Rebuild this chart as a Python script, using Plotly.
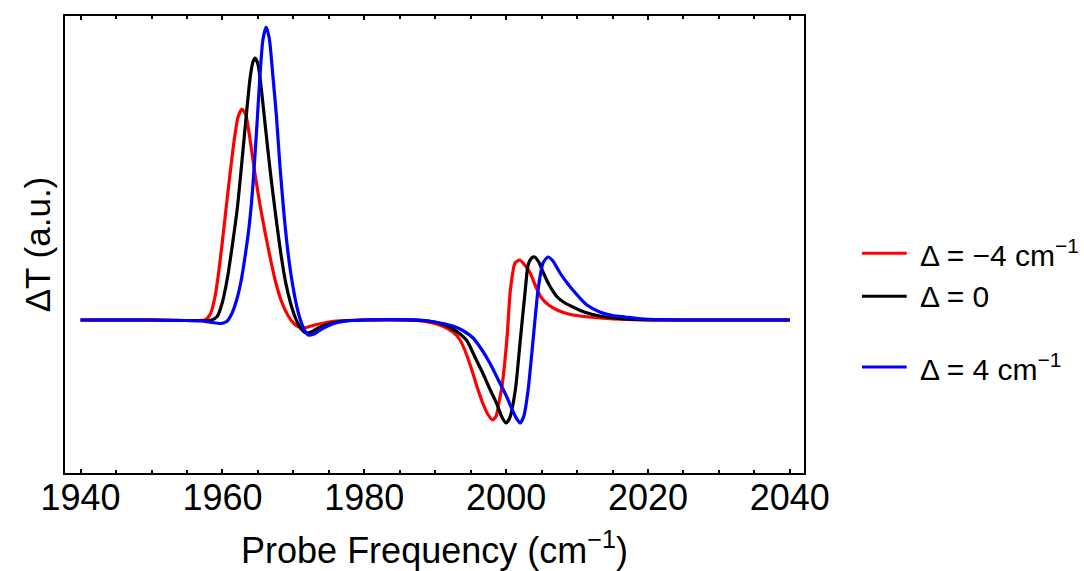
import plotly.graph_objects as go

# Probe frequency (cm^-1) and ΔT (a.u.)
red_f = [1940, 1950, 1955, 1957.5, 1958.3, 1959.0, 1959.6, 1960.3, 1961.0, 1961.7, 1962.2, 1962.75,
         1963.3, 1963.8, 1964.5, 1965.3, 1966.0, 1966.8, 1967.5, 1968.3, 1969.2, 1970.0, 1970.8, 1971.5,
         1972.5, 1974.0, 1976.0, 1980.0, 1986.0, 1989.0, 1991.0, 1992.5, 1993.5, 1994.5, 1995.3, 1996.0,
         1996.7, 1997.4, 1998.1, 1998.6, 1999.0, 1999.4, 2000.1, 2000.6, 2001.25, 2001.9, 2002.5, 2003.4,
         2004.2, 2005.0, 2006.0, 2007.2, 2008.8, 2010.4, 2013.2, 2017.0, 2025, 2040]
red_v = [0, 0, -0.005, 0, 0.06, 0.25, 0.55, 0.98, 1.42, 1.82, 2.03, 2.11,
         2.05, 1.85, 1.50, 1.15, 0.88, 0.60, 0.38, 0.19, 0.05, -0.03, -0.07, -0.08,
         -0.06, -0.035, -0.01, 0, 0, -0.02, -0.06, -0.12, -0.20, -0.36, -0.53, -0.69,
         -0.83, -0.94, -1.00, -0.96, -0.82, -0.67, -0.20, 0.30, 0.57, 0.60, 0.56, 0.47,
         0.33, 0.22, 0.15, 0.10, 0.06, 0.04, 0.02, 0.005, 0, 0]

black_f = [1940, 1950, 1956.5, 1958.5, 1959.3, 1960.0, 1960.7, 1961.4, 1962.1, 1962.7, 1963.3, 1963.9,
           1964.3, 1964.6, 1965.0, 1965.5, 1966.1, 1966.8, 1967.5, 1968.2, 1968.9, 1969.6, 1970.3, 1971.0,
           1971.8, 1972.5, 1973.5, 1975.0, 1977.0, 1980.0, 1986.0, 1989.0, 1991.0, 1992.5, 1993.5, 1994.5,
           1995.6, 1996.7, 1997.7, 1998.7, 1999.4, 2000.0, 2000.5, 2001.3, 2002.0, 2002.7, 2003.1, 2003.6,
           2004.0, 2004.6, 2005.2, 2006.0, 2007.2, 2008.3, 2009.4, 2011.0, 2013.2, 2016.0, 2019.0, 2025, 2040]
black_v = [0, 0, -0.005, 0, 0.04, 0.18, 0.42, 0.75, 1.12, 1.55, 2.00, 2.42,
           2.58, 2.62, 2.56, 2.30, 1.90, 1.45, 1.05, 0.68, 0.38, 0.17, 0.02, -0.08,
           -0.13, -0.12, -0.08, -0.04, -0.01, 0, 0, -0.01, -0.04, -0.09, -0.14, -0.21,
           -0.37, -0.53, -0.69, -0.84, -0.97, -1.03, -0.98, -0.70, -0.20, 0.30, 0.55, 0.62,
           0.63, 0.58, 0.48, 0.36, 0.23, 0.17, 0.13, 0.08, 0.04, 0.015, 0.003, 0, 0]

blue_f = [1940, 1950, 1957.0, 1958.5, 1959.8, 1960.6, 1961.3, 1962.0, 1962.6, 1963.2, 1963.8, 1964.3,
          1964.8, 1965.3, 1965.7, 1966.15, 1966.6, 1967.1, 1967.6, 1968.1, 1968.6, 1969.2, 1969.9, 1970.6,
          1971.3, 1972.1, 1972.9, 1974.0, 1975.5, 1977.5, 1980.0, 1987.9, 1990.7, 1992.5, 1994.0, 1995.35,
          1996.5, 1997.7, 1998.9, 2000.1, 2001.0, 2001.6, 2002.0, 2002.5, 2003.1, 2003.8, 2004.5, 2005.2,
          2005.9, 2006.6, 2007.6, 2008.5, 2009.4, 2010.4, 2011.4, 2013.2, 2015.0, 2016.8, 2019.0, 2021.7,
          2025, 2040]
blue_v = [0, 0, -0.01, -0.025, -0.035, -0.015, 0.06, 0.20, 0.38, 0.64, 0.96, 1.35,
          1.88, 2.45, 2.80, 2.93, 2.82, 2.45, 2.05, 1.55, 1.12, 0.70, 0.35, 0.10,
          -0.06, -0.15, -0.14, -0.09, -0.04, -0.01, 0, 0, -0.03, -0.06, -0.11, -0.18,
          -0.29, -0.43, -0.60, -0.77, -0.92, -1.00, -1.03, -0.96, -0.70, -0.20, 0.30, 0.57,
          0.63, 0.59, 0.47, 0.38, 0.30, 0.22, 0.15, 0.08, 0.045, 0.03, 0.012, 0.003,
          0, 0]

series_names = ["Δ = −4 cm<sup>−1</sup>", "Δ = 0", "Δ = 4 cm<sup>−1</sup>"]
series_colors = ["#ff0000", "#000000", "#0000ff"]
legend_y = [0.481, 0.387, 0.232]

x_ticks = [1940, 1960, 1980, 2000, 2020, 2040]

FONT = "Liberation Sans, Arial, sans-serif"

fig = go.Figure()
for f, v, name, col in zip([red_f, black_f, blue_f], [red_v, black_v, blue_v], series_names, series_colors):
    fig.add_trace(go.Scatter(x=f, y=v, mode="lines", name=name,
                             line=dict(color=col, width=3.2, shape="spline", smoothing=0.6),
                             showlegend=False))

# manual legend
for name, col, ly in zip(series_names, series_colors, legend_y):
    fig.add_shape(type="line", xref="paper", yref="paper", x0=1.0785, x1=1.139, y0=ly, y1=ly,
                  line=dict(color=col, width=3))
    fig.add_annotation(xref="paper", yref="paper", x=1.154, y=ly, text=name, showarrow=False,
                       xanchor="left", yanchor="middle", font=dict(family=FONT, size=30, color="black"))

fig.update_layout(
    width=1084, height=571,
    margin=dict(l=65, r=280, t=16, b=98),
    paper_bgcolor="white", plot_bgcolor="white",
    font=dict(family=FONT, color="black"),
)
fig.update_xaxes(
    range=[1937.8, 2042], tickvals=x_ticks, ticktext=[str(t) for t in x_ticks],
    ticks="inside", ticklen=4, tickwidth=2, tickcolor="black",
    minor=dict(dtick=5, tick0=1940, ticks="inside", ticklen=3, tickwidth=1.5, tickcolor="black"),
    showline=True, linecolor="black", linewidth=2, mirror="allticks",
    showgrid=False, zeroline=False, automargin=False,
    tickfont=dict(family=FONT, size=36, color="black"),
    ticklabelstandoff=-8,
    title=dict(text="Probe Frequency (cm<sup>−1</sup>)", font=dict(family=FONT, size=36, color="black"), standoff=22),
)
fig.update_yaxes(
    range=[-1.53, 3.04], showticklabels=False, ticks="",
    showline=True, linecolor="black", linewidth=2, mirror=True,
    showgrid=False, zeroline=False, automargin=False,
    title=dict(text="ΔT (a.u.)", font=dict(family=FONT, size=35, color="black"), standoff=2),
)

fig.write_html("out.html")
